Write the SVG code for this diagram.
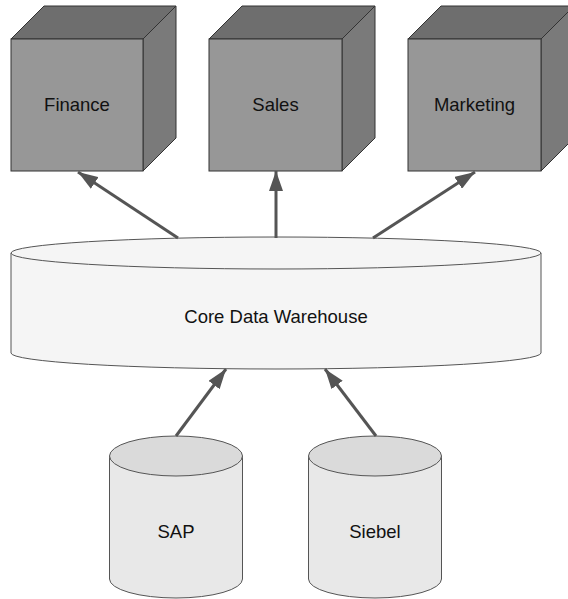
<svg xmlns="http://www.w3.org/2000/svg" width="568" height="599" viewBox="0 0 568 599">
<defs>
<style>
.front{fill:#979797;stroke:#333;stroke-width:1}
.top{fill:#6e6e6e;stroke:#333;stroke-width:1}
.side{fill:#7a7a7a;stroke:#333;stroke-width:1}
.lbl{font-family:"Liberation Sans",Arial,sans-serif;font-size:18.5px;fill:#111;text-anchor:middle}
.dwbody{fill:#f5f5f5;stroke:#555;stroke-width:1}
.srcbody{fill:#e8e8e8;stroke:#555;stroke-width:1}
.srctop{fill:#dadada;stroke:#555;stroke-width:1}
.conn{stroke:#555;stroke-width:3;fill:none}
</style>
<marker id="ah" markerUnits="userSpaceOnUse" markerWidth="20" markerHeight="14" refX="20" refY="7" orient="auto">
<path d="M0,0 L20,7 L0,14 z" fill="#555"/>
</marker>
</defs>
<rect width="568" height="599" fill="#fff"/>
<g id="finance">
<polygon class="top" points="11,39 44,6 176,6 143,39"/>
<polygon class="side" points="143,39 176,6 176,138 143,171"/>
<rect class="front" x="11" y="39" width="132" height="132"/>
<text class="lbl" x="77" y="111">Finance</text>
</g>
<g id="sales">
<polygon class="top" points="209,39 242,6 375,6 342,39"/>
<polygon class="side" points="342,39 375,6 375,138 342,171"/>
<rect class="front" x="209" y="39" width="133" height="132"/>
<text class="lbl" x="275.5" y="111">Sales</text>
</g>
<g id="marketing">
<polygon class="top" points="408,39 441,6 574,6 541,39"/>
<polygon class="side" points="541,39 574,6 574,138 541,171"/>
<rect class="front" x="408" y="39" width="133" height="132"/>
<text class="lbl" x="474.5" y="111">Marketing</text>
</g>
<g id="core-dw">
<path class="dwbody" d="M11,253 L11,353 A265,16 0 0 0 541,353 L541,253"/>
<ellipse class="dwbody" cx="276" cy="253" rx="265" ry="16"/>
<text class="lbl" x="276" y="323">Core Data Warehouse</text>
</g>
<g id="sap">
<path class="srcbody" d="M109.5,456 L109.5,579 A66.5,19 0 0 0 242.5,579 L242.5,456"/>
<ellipse class="srctop" cx="176" cy="456" rx="66.5" ry="20"/>
<text class="lbl" x="176" y="538">SAP</text>
</g>
<g id="siebel">
<path class="srcbody" d="M308.5,456 L308.5,579 A66.5,19 0 0 0 441.5,579 L441.5,456"/>
<ellipse class="srctop" cx="375" cy="456" rx="66.5" ry="20"/>
<text class="lbl" x="375" y="538">Siebel</text>
</g>
<g id="connectors">
<line class="conn" x1="178" y1="238" x2="78" y2="172" marker-end="url(#ah)"/>
<line class="conn" x1="276" y1="238" x2="276" y2="171" marker-end="url(#ah)"/>
<line class="conn" x1="373" y1="238" x2="475" y2="172" marker-end="url(#ah)"/>
<line class="conn" x1="176" y1="436" x2="226" y2="369" marker-end="url(#ah)"/>
<line class="conn" x1="376" y1="436" x2="325" y2="369" marker-end="url(#ah)"/>
</g>
</svg>
